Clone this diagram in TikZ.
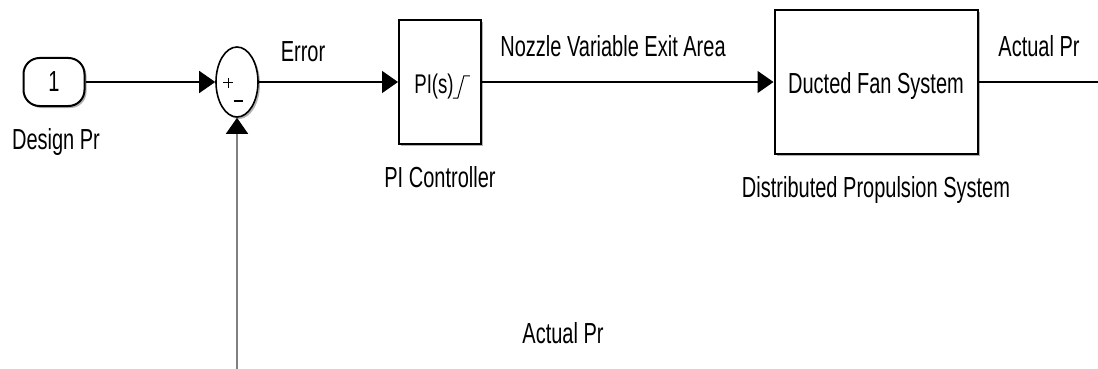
\documentclass[tikz,border=0pt]{standalone}
\usepackage{fontspec}
\setmainfont{Liberation Sans}[FakeStretch=0.69]
\usepackage{tikz}
\usetikzlibrary{arrows.meta,positioning,shapes.geometric,shadows}

\begin{document}
\begin{tikzpicture}[
    x=1pt, y=-1pt,
    sig/.style={line width=1.5pt, -{Triangle[length=16pt,width=22pt,color=black]}},
    lbl/.style={font=\fontsize{29}{32}\selectfont, inner sep=0pt},
    block/.style={draw, line width=2pt, fill=white, inner sep=0pt,
      drop shadow={shadow xshift=2pt, shadow yshift=-2pt, fill=gray!60, opacity=1}},
    inport/.style={block, rounded corners=16pt, minimum width=61pt, minimum height=48pt},
    sumblk/.style={block, ellipse, line width=1.6pt, minimum width=42pt, minimum height=70pt}
  ]
    \useasboundingbox[fill=white] (0,0) rectangle (1098,369);
    % blocks
    \node[inport, lbl] (in1) at (54,82) {1};
    \node[sumblk] (sum) at (237,82) {};
    \node[block, minimum width=82pt, minimum height=123pt] (pi) at (440,82) {};
    \node[block, minimum width=203pt, minimum height=143pt] (fan) at (876,82) {};
    \coordinate (out) at (1098,82);
    \coordinate (fb) at (237,369);
    % block texts
    \draw[line width=1pt] (223,83) -- (233,83) (228,78) -- (228,88);
    \draw[line width=1.2pt] (233.5,101) -- (242.5,101);
    \node[lbl, font=\fontsize{27}{28}\selectfont, anchor=base] (pitxt) at (434,93) {PI(s)};
    \draw[line width=1pt] (pitxt.base east) ++(-1,5) -- ++(5,0) -- ++(6,-22) -- ++(6,0);
    \node[lbl, anchor=base] at (876,93) {Ducted Fan System};
    % labels
    \node[lbl, anchor=base] at (56,149) {Design Pr};
    \node[lbl, anchor=base] at (440,187) {PI Controller};
    \node[lbl, anchor=base] at (876,197) {Distributed Propulsion System};
    \node[lbl, anchor=base] at (303,62) {Error};
    \node[lbl, anchor=base] at (613,57) {Nozzle Variable Exit Area};
    \node[lbl, anchor=base] at (1039,57) {Actual Pr};
    \node[lbl, anchor=base] at (563,343) {Actual Pr};
    % signals
    \draw[sig] (in1) -- (sum);
    \draw[sig] (sum) -- (pi);
    \draw[sig] (pi) -- (fan);
    \draw[line width=1.5pt] (fan) -- (out);
    \draw[sig, draw=gray] (fb) -- (sum);
\end{tikzpicture}
\end{document}
